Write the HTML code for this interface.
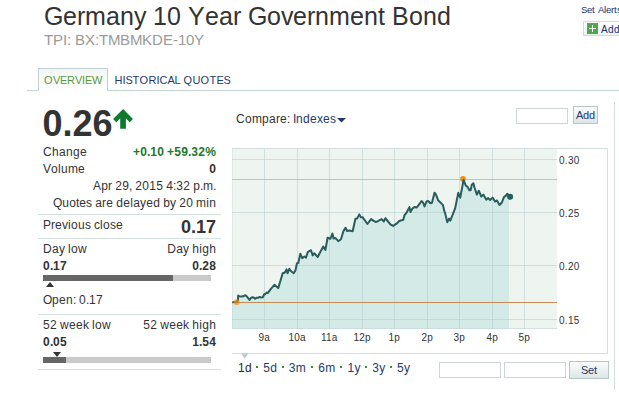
<!DOCTYPE html>
<html><head><meta charset="utf-8">
<style>
html,body{margin:0;padding:0;background:#fff;width:619px;height:407px;overflow:hidden;position:relative;font-family:"Liberation Sans",sans-serif;color:#333;}
.a{position:absolute;white-space:nowrap;line-height:1;letter-spacing:0;font-kerning:none;}
.a span{display:inline-block;}
.r{text-align:right;}
.hl{position:absolute;height:1px;background:#d5e0e0;}
</style></head><body>
<!-- header -->
<div class="a" style="left:44px;top:3.9px;font-size:25px;color:#333;"><span style="width:19px">G</span><span style="width:14px">e</span><span style="width:8px">r</span><span style="width:21px">m</span><span style="width:14px">a</span><span style="width:14px">n</span><span style="width:12px">y</span><span style="width:7px">&nbsp;</span><span style="width:14px">1</span><span style="width:14px">0</span><span style="width:7px">&nbsp;</span><span style="width:17px">Y</span><span style="width:14px">e</span><span style="width:14px">a</span><span style="width:8px">r</span><span style="width:7px">&nbsp;</span><span style="width:19px">G</span><span style="width:14px">o</span><span style="width:12px">v</span><span style="width:14px">e</span><span style="width:8px">r</span><span style="width:14px">n</span><span style="width:21px">m</span><span style="width:14px">e</span><span style="width:14px">n</span><span style="width:7px">t</span><span style="width:7px">&nbsp;</span><span style="width:17px">B</span><span style="width:14px">o</span><span style="width:14px">n</span><span style="width:14px">d</span></div>
<div class="a" style="left:44px;top:31.6px;font-size:15px;color:#9a9a9a;"><span style="width:9px">T</span><span style="width:10px">P</span><span style="width:4px">I</span><span style="width:4px">:</span><span style="width:4px">&nbsp;</span><span style="width:10px">B</span><span style="width:10px">X</span><span style="width:4px">:</span><span style="width:9px">T</span><span style="width:12px">M</span><span style="width:10px">B</span><span style="width:12px">M</span><span style="width:10px">K</span><span style="width:11px">D</span><span style="width:10px">E</span><span style="width:5px">-</span><span style="width:8px">1</span><span style="width:8px">0</span><span style="width:10px">Y</span></div>
<div class="a" style="left:581px;top:4.6px;font-size:9.5px;color:#16306a;"><span style="width:6px">S</span><span style="width:5px">e</span><span style="width:3px">t</span><span style="width:3px">&nbsp;</span><span style="width:6px">A</span><span style="width:2px">l</span><span style="width:5px">e</span><span style="width:3px">r</span><span style="width:3px">t</span><span style="width:5px">s</span></div>
<div style="position:absolute;left:583px;top:21px;width:40px;height:15px;border:1px solid #d3dada;border-right:none;background:linear-gradient(#fff,#eef2f2);box-sizing:border-box;"></div>
<div style="position:absolute;left:587px;top:23px;width:11px;height:11px;background:#50a550;"></div>
<div style="position:absolute;left:591.9px;top:24.8px;width:1.4px;height:7.2px;background:#fff;"></div>
<div style="position:absolute;left:588.8px;top:27.8px;width:7.3px;height:1.4px;background:#fff;"></div>
<div class="a" style="left:601px;top:24.6px;font-size:10px;color:#16306a;"><span style="width:7px">A</span><span style="width:6px">d</span><span style="width:6px">d</span></div>

<!-- tabs -->
<div class="hl" style="left:27px;top:90px;width:592px;background:#c5d4d4;"></div>
<div style="position:absolute;left:38px;top:68px;width:70px;height:23px;box-sizing:border-box;border:1px solid #c0d0d0;border-bottom:none;background:linear-gradient(#f4f6f6,#fff);"></div>
<div class="a" style="left:44px;top:74.5px;font-size:11px;color:#5a9a3a;"><span style="width:9px">O</span><span style="width:7px">V</span><span style="width:7px">E</span><span style="width:8px">R</span><span style="width:7px">V</span><span style="width:3px">I</span><span style="width:7px">E</span><span style="width:10px">W</span></div>
<div class="a" style="left:114.5px;top:74.9px;font-size:11px;color:#1f3a6b;"><span style="width:8px">H</span><span style="width:3px">I</span><span style="width:7px">S</span><span style="width:7px">T</span><span style="width:9px">O</span><span style="width:8px">R</span><span style="width:3px">I</span><span style="width:8px">C</span><span style="width:7px">A</span><span style="width:6px">L</span><span style="width:3px">&nbsp;</span><span style="width:9px">Q</span><span style="width:8px">U</span><span style="width:9px">O</span><span style="width:7px">T</span><span style="width:7px">E</span><span style="width:7px">S</span></div>

<!-- left panel -->
<div class="a" style="left:42.5px;top:106px;font-size:36px;font-weight:bold;color:#333;"><span style="width:20px">0</span><span style="width:10px">.</span><span style="width:20px">2</span><span style="width:20px">6</span></div>
<svg style="position:absolute;left:108px;top:104px" width="30" height="30" viewBox="108 104 30 30"><path d="M123.1,109 L132.9,119.1 L129.7,122.2 L125.9,118.2 L125.9,128.7 L120.2,128.7 L120.2,118.2 L116.3,122.2 L113.1,119.1 Z" fill="#0b7a2a"/></svg>

<div class="a" style="left:43px;top:145.8px;font-size:12px;"><span style="width:9px">C</span><span style="width:7px">h</span><span style="width:7px">a</span><span style="width:7px">n</span><span style="width:7px">g</span><span style="width:7px">e</span></div>
<div class="a r" style="right:403px;top:145.8px;font-size:12px;font-weight:bold;color:#1a7a2a;"><span style="width:7px">+</span><span style="width:7px">0</span><span style="width:3px">.</span><span style="width:7px">1</span><span style="width:7px">0</span><span style="width:3px">&nbsp;</span><span style="width:7px">+</span><span style="width:7px">5</span><span style="width:7px">9</span><span style="width:3px">.</span><span style="width:7px">3</span><span style="width:7px">2</span><span style="width:11px">%</span></div>
<div class="a" style="left:43px;top:162.6px;font-size:12px;"><span style="width:8px">V</span><span style="width:7px">o</span><span style="width:3px">l</span><span style="width:7px">u</span><span style="width:10px">m</span><span style="width:7px">e</span></div>
<div class="a r" style="right:403px;top:162.6px;font-size:12px;font-weight:bold;"><span style="width:7px">0</span></div>
<div class="a r" style="right:403px;top:179.8px;font-size:12px;"><span style="width:8px">A</span><span style="width:7px">p</span><span style="width:4px">r</span><span style="width:3px">&nbsp;</span><span style="width:7px">2</span><span style="width:7px">9</span><span style="width:3px">,</span><span style="width:3px">&nbsp;</span><span style="width:7px">2</span><span style="width:7px">0</span><span style="width:7px">1</span><span style="width:7px">5</span><span style="width:3px">&nbsp;</span><span style="width:7px">4</span><span style="width:3px">:</span><span style="width:7px">3</span><span style="width:7px">2</span><span style="width:3px">&nbsp;</span><span style="width:7px">p</span><span style="width:3px">.</span><span style="width:10px">m</span><span style="width:3px">.</span></div>
<div class="a r" style="right:403px;top:196.8px;font-size:12px;"><span style="width:9px">Q</span><span style="width:7px">u</span><span style="width:7px">o</span><span style="width:3px">t</span><span style="width:7px">e</span><span style="width:6px">s</span><span style="width:3px">&nbsp;</span><span style="width:7px">a</span><span style="width:4px">r</span><span style="width:7px">e</span><span style="width:3px">&nbsp;</span><span style="width:7px">d</span><span style="width:7px">e</span><span style="width:3px">l</span><span style="width:7px">a</span><span style="width:6px">y</span><span style="width:7px">e</span><span style="width:7px">d</span><span style="width:3px">&nbsp;</span><span style="width:7px">b</span><span style="width:6px">y</span><span style="width:3px">&nbsp;</span><span style="width:7px">2</span><span style="width:7px">0</span><span style="width:3px">&nbsp;</span><span style="width:10px">m</span><span style="width:3px">i</span><span style="width:7px">n</span></div>
<div class="hl" style="left:38px;top:214px;width:183px;"></div>
<div class="a" style="left:43px;top:218.7px;font-size:12px;"><span style="width:8px">P</span><span style="width:4px">r</span><span style="width:7px">e</span><span style="width:6px">v</span><span style="width:3px">i</span><span style="width:7px">o</span><span style="width:7px">u</span><span style="width:6px">s</span><span style="width:3px">&nbsp;</span><span style="width:6px">c</span><span style="width:3px">l</span><span style="width:7px">o</span><span style="width:6px">s</span><span style="width:7px">e</span></div>
<div class="a r" style="right:403px;top:217.6px;font-size:18px;font-weight:bold;"><span style="width:10px">0</span><span style="width:5px">.</span><span style="width:10px">1</span><span style="width:10px">7</span></div>
<div class="hl" style="left:38px;top:238px;width:183px;"></div>
<div class="a" style="left:43px;top:242.8px;font-size:12px;"><span style="width:9px">D</span><span style="width:7px">a</span><span style="width:6px">y</span><span style="width:3px">&nbsp;</span><span style="width:3px">l</span><span style="width:7px">o</span><span style="width:9px">w</span></div>
<div class="a r" style="right:403px;top:242.8px;font-size:12px;"><span style="width:9px">D</span><span style="width:7px">a</span><span style="width:6px">y</span><span style="width:3px">&nbsp;</span><span style="width:7px">h</span><span style="width:3px">i</span><span style="width:7px">g</span><span style="width:7px">h</span></div>
<div class="a" style="left:43px;top:259.5px;font-size:12px;font-weight:bold;"><span style="width:7px">0</span><span style="width:3px">.</span><span style="width:7px">1</span><span style="width:7px">7</span></div>
<div class="a r" style="right:403px;top:259.5px;font-size:12px;font-weight:bold;"><span style="width:7px">0</span><span style="width:3px">.</span><span style="width:7px">2</span><span style="width:7px">8</span></div>
<div style="position:absolute;left:43px;top:275px;width:130px;height:6px;background:#666;"></div>
<div style="position:absolute;left:173px;top:275px;width:38px;height:6px;background:#cacaca;"></div>
<svg style="position:absolute;left:46px;top:282px" width="8" height="5"><path d="M4 0 L8 5 L0 5 Z" fill="#333"/></svg>
<div class="a" style="left:43px;top:293.7px;font-size:12px;"><span style="width:9px">O</span><span style="width:7px">p</span><span style="width:7px">e</span><span style="width:7px">n</span><span style="width:3px">:</span><span style="width:3px">&nbsp;</span><span style="width:7px">0</span><span style="width:3px">.</span><span style="width:7px">1</span><span style="width:7px">7</span></div>
<div class="hl" style="left:38px;top:314px;width:183px;"></div>
<div class="a" style="left:43px;top:318.7px;font-size:12px;"><span style="width:7px">5</span><span style="width:7px">2</span><span style="width:3px">&nbsp;</span><span style="width:9px">w</span><span style="width:7px">e</span><span style="width:7px">e</span><span style="width:6px">k</span><span style="width:3px">&nbsp;</span><span style="width:3px">l</span><span style="width:7px">o</span><span style="width:9px">w</span></div>
<div class="a r" style="right:403px;top:318.7px;font-size:12px;"><span style="width:7px">5</span><span style="width:7px">2</span><span style="width:3px">&nbsp;</span><span style="width:9px">w</span><span style="width:7px">e</span><span style="width:7px">e</span><span style="width:6px">k</span><span style="width:3px">&nbsp;</span><span style="width:7px">h</span><span style="width:3px">i</span><span style="width:7px">g</span><span style="width:7px">h</span></div>
<div class="a" style="left:43px;top:335.5px;font-size:12px;font-weight:bold;"><span style="width:7px">0</span><span style="width:3px">.</span><span style="width:7px">0</span><span style="width:7px">5</span></div>
<div class="a r" style="right:403px;top:335.5px;font-size:12px;font-weight:bold;"><span style="width:7px">1</span><span style="width:3px">.</span><span style="width:7px">5</span><span style="width:7px">4</span></div>
<svg style="position:absolute;left:53px;top:352px" width="8" height="5"><path d="M0 0 L8 0 L4 5 Z" fill="#333"/></svg>
<div style="position:absolute;left:43px;top:357px;width:23px;height:6px;background:#666;"></div>
<div style="position:absolute;left:66px;top:357px;width:145px;height:6px;background:#cacaca;"></div>
<div class="hl" style="left:38px;top:369px;width:183px;"></div>

<!-- chart header -->
<div class="a g" style="left:236px;top:112.5px;font-size:12px;color:#333;"><span style="width:9px">C</span><span style="width:7px">o</span><span style="width:10px">m</span><span style="width:7px">p</span><span style="width:7px">a</span><span style="width:4px">r</span><span style="width:7px">e</span><span style="width:3px">:</span><span style="width:3px">&nbsp;</span></div>
<div class="a g" style="left:293px;top:112.5px;font-size:12px;color:#1f3a6b;"><span style="width:3px">I</span><span style="width:7px">n</span><span style="width:7px">d</span><span style="width:7px">e</span><span style="width:6px">x</span><span style="width:7px">e</span><span style="width:6px">s</span></div>
<svg style="position:absolute;left:337px;top:117.5px" width="10" height="6"><path d="M0 0 L9 0 L4.5 4.5 Z" fill="#1f3a6b"/></svg>
<div style="position:absolute;left:516px;top:108px;width:52px;height:16px;box-sizing:border-box;border:1px solid #cdd6d6;background:#fff;"></div>
<div style="position:absolute;left:573px;top:106px;width:25px;height:18px;box-sizing:border-box;border:1px solid #b9c6c6;background:linear-gradient(#fafcfc,#dde6e6);"></div>
<div class="a" style="left:576px;top:110px;font-size:11px;color:#1f3a6b;"><span style="width:7px">A</span><span style="width:6px">d</span><span style="width:6px">d</span></div>
<div style="position:absolute;left:614px;top:102px;width:1px;height:288px;background:#d5dede;"></div>

<!-- chart -->
<svg style="position:absolute;left:0;top:0" width="619" height="407">
<rect x="232" y="148" width="325" height="181" fill="#eef5f1"/>
<path d="M232,328.5 L232,302.2 L232.3,302.2 L236.8,302.0 L237.9,300.3 L238.2,295.5 L239.3,296.3 L241.3,296.6 L243.3,296.3 L245.3,295.2 L247.0,296.6 L249.5,300.0 L250.6,298.3 L252.0,297.2 L253.7,297.4 L255.2,298.8 L256.6,297.7 L258.3,297.7 L259.7,296.9 L260.8,297.4 L262.8,297.2 L264.2,294.3 L265.0,294.2 L266.6,292.6 L267.7,293.1 L270.5,289.3 L274.4,284.8 L278.2,288.1 L280.4,281.0 L282.7,273.2 L284.9,272.5 L286.5,269.4 L287.6,273.2 L289.3,268.8 L290.9,271.0 L293.7,273.2 L295.4,270.5 L297.0,263.3 L298.3,263.1 L300.3,253.7 L302.2,258.1 L304.4,256.5 L306.0,257.6 L307.7,252.1 L311.0,250.2 L312.7,255.4 L314.3,253.2 L317.7,257.0 L323.2,246.5 L325.4,249.9 L327.6,237.7 L330.4,238.8 L332.4,233.5 L333.6,238.5 L335.5,238.1 L338.3,241.2 L341.0,239.3 L343.3,231.5 L345.5,227.7 L347.1,231.0 L349.3,230.6 L352.7,231.3 L355.4,218.8 L357.1,218.5 L359.3,214.4 L360.9,217.2 L362.6,217.2 L367.4,224.0 L371.1,219.1 L373.3,220.6 L376.0,222.1 L378.8,220.6 L381.6,219.1 L383.8,221.5 L385.4,218.2 L387.7,221.0 L390.4,224.3 L393.2,225.9 L396.5,223.7 L399.3,221.0 L403.3,219.8 L404.4,215.4 L406.6,212.6 L409.4,207.1 L410.5,212.0 L412.2,208.7 L414.4,207.1 L416.6,207.6 L418.8,204.9 L421.5,201.0 L423.2,202.7 L424.5,206.5 L426.5,201.5 L428.2,201.0 L430.4,203.2 L432.0,202.7 L434.5,192.7 L435.9,194.4 L438.1,200.2 L440.5,202.6 L443.0,205.1 L444.2,210.6 L445.4,214.3 L447.3,222.2 L449.1,218.6 L450.3,220.6 L452.8,214.3 L455.2,208.1 L458.3,192.8 L460.2,197.7 L462.0,188.5 L463.5,179.9 L465.7,185.4 L467.5,186.7 L469.4,190.3 L470.6,190.3 L471.8,184.8 L473.4,183.3 L474.4,187.3 L476.9,194.6 L478.8,190.7 L481.3,196.6 L483.3,194.6 L486.2,199.6 L488.2,198.1 L490.1,200.0 L492.6,197.6 L495.0,201.5 L497.0,200.5 L499.5,205.0 L501.9,202.5 L503.9,197.1 L505.9,195.6 L507.3,193.7 L508.8,195.6 L509,195.6 L509,328.5 Z" fill="#d4eae7"/>
<rect x="264.0" y="148" width="1" height="181" fill="#b4cbcd" opacity="0.55"/>
<rect x="297.0" y="148" width="1" height="181" fill="#b4cbcd" opacity="0.55"/>
<rect x="329.0" y="148" width="1" height="181" fill="#b4cbcd" opacity="0.55"/>
<rect x="362.0" y="148" width="1" height="181" fill="#b4cbcd" opacity="0.55"/>
<rect x="394.0" y="148" width="1" height="181" fill="#b4cbcd" opacity="0.55"/>
<rect x="427.0" y="148" width="1" height="181" fill="#b4cbcd" opacity="0.55"/>
<rect x="459.0" y="148" width="1" height="181" fill="#b4cbcd" opacity="0.55"/>
<rect x="492.0" y="148" width="1" height="181" fill="#b4cbcd" opacity="0.55"/>
<rect x="524.0" y="148" width="1" height="181" fill="#b4cbcd" opacity="0.55"/>
<rect x="232" y="159" width="325" height="1" fill="#b4cbcd" opacity="0.55"/>
<rect x="232" y="212" width="325" height="1" fill="#b4cbcd" opacity="0.55"/>
<rect x="232" y="265" width="325" height="1" fill="#b4cbcd" opacity="0.55"/>
<rect x="232" y="319" width="325" height="1" fill="#b4cbcd" opacity="0.55"/>
<path d="M232,148.5 L607.5,148.5 L607.5,353.5 L232,353.5" fill="none" stroke="#d3dfde" stroke-width="1"/>
<rect x="232" y="149" width="1" height="180" fill="#9fbcbc" opacity="0.18"/>
<rect x="232" y="328" width="325" height="1" fill="#b5cccd" opacity="0.5"/>
<rect x="232" y="179" width="325" height="1" fill="#f2b878"/>
<rect x="232" y="302" width="325" height="1" fill="#c68a52"/>
<circle cx="463" cy="178.9" r="2.8" fill="#f0900a"/>
<polyline points="232.3,302.2 236.8,302.0 237.9,300.3 238.2,295.5 239.3,296.3 241.3,296.6 243.3,296.3 245.3,295.2 247.0,296.6 249.5,300.0 250.6,298.3 252.0,297.2 253.7,297.4 255.2,298.8 256.6,297.7 258.3,297.7 259.7,296.9 260.8,297.4 262.8,297.2 264.2,294.3 265.0,294.2 266.6,292.6 267.7,293.1 270.5,289.3 274.4,284.8 278.2,288.1 280.4,281.0 282.7,273.2 284.9,272.5 286.5,269.4 287.6,273.2 289.3,268.8 290.9,271.0 293.7,273.2 295.4,270.5 297.0,263.3 298.3,263.1 300.3,253.7 302.2,258.1 304.4,256.5 306.0,257.6 307.7,252.1 311.0,250.2 312.7,255.4 314.3,253.2 317.7,257.0 323.2,246.5 325.4,249.9 327.6,237.7 330.4,238.8 332.4,233.5 333.6,238.5 335.5,238.1 338.3,241.2 341.0,239.3 343.3,231.5 345.5,227.7 347.1,231.0 349.3,230.6 352.7,231.3 355.4,218.8 357.1,218.5 359.3,214.4 360.9,217.2 362.6,217.2 367.4,224.0 371.1,219.1 373.3,220.6 376.0,222.1 378.8,220.6 381.6,219.1 383.8,221.5 385.4,218.2 387.7,221.0 390.4,224.3 393.2,225.9 396.5,223.7 399.3,221.0 403.3,219.8 404.4,215.4 406.6,212.6 409.4,207.1 410.5,212.0 412.2,208.7 414.4,207.1 416.6,207.6 418.8,204.9 421.5,201.0 423.2,202.7 424.5,206.5 426.5,201.5 428.2,201.0 430.4,203.2 432.0,202.7 434.5,192.7 435.9,194.4 438.1,200.2 440.5,202.6 443.0,205.1 444.2,210.6 445.4,214.3 447.3,222.2 449.1,218.6 450.3,220.6 452.8,214.3 455.2,208.1 458.3,192.8 460.2,197.7 462.0,188.5 463.5,179.9 465.7,185.4 467.5,186.7 469.4,190.3 470.6,190.3 471.8,184.8 473.4,183.3 474.4,187.3 476.9,194.6 478.8,190.7 481.3,196.6 483.3,194.6 486.2,199.6 488.2,198.1 490.1,200.0 492.6,197.6 495.0,201.5 497.0,200.5 499.5,205.0 501.9,202.5 503.9,197.1 505.9,195.6 507.3,193.7 508.8,195.6 510.1,196.8" fill="none" stroke="#285d5b" stroke-width="2" stroke-linejoin="round"/>
<circle cx="236.8" cy="302.2" r="3" fill="#f58a00" opacity="0.65"/>
<circle cx="510.1" cy="196.8" r="3" fill="#285d5b"/>
<text x="559" y="164.1" font-size="10" letter-spacing="0.3" fill="#333" font-family="Liberation Sans">0.30</text>
<text x="559" y="217.1" font-size="10" letter-spacing="0.3" fill="#333" font-family="Liberation Sans">0.25</text>
<text x="559" y="270.1" font-size="10" letter-spacing="0.3" fill="#333" font-family="Liberation Sans">0.20</text>
<text x="559" y="324.1" font-size="10" letter-spacing="0.3" fill="#333" font-family="Liberation Sans">0.15</text>
<text x="264.2" y="341" font-size="10" letter-spacing="0.2" fill="#333" text-anchor="middle" font-family="Liberation Sans">9a</text>
<text x="297.2" y="341" font-size="10" letter-spacing="0.2" fill="#333" text-anchor="middle" font-family="Liberation Sans">10a</text>
<text x="329.2" y="341" font-size="10" letter-spacing="0.2" fill="#333" text-anchor="middle" font-family="Liberation Sans">11a</text>
<text x="362.2" y="341" font-size="10" letter-spacing="0.2" fill="#333" text-anchor="middle" font-family="Liberation Sans">12p</text>
<text x="394.2" y="341" font-size="10" letter-spacing="0.2" fill="#333" text-anchor="middle" font-family="Liberation Sans">1p</text>
<text x="427.2" y="341" font-size="10" letter-spacing="0.2" fill="#333" text-anchor="middle" font-family="Liberation Sans">2p</text>
<text x="459.2" y="341" font-size="10" letter-spacing="0.2" fill="#333" text-anchor="middle" font-family="Liberation Sans">3p</text>
<text x="492.2" y="341" font-size="10" letter-spacing="0.2" fill="#333" text-anchor="middle" font-family="Liberation Sans">4p</text>
<text x="524.2" y="341" font-size="10" letter-spacing="0.2" fill="#333" text-anchor="middle" font-family="Liberation Sans">5p</text>
<path d="M241,353.5 L248.4,353.5 L244.7,358.8 Z" fill="#b9cdd0"/>
</svg>

<!-- bottom controls -->
<div class="a" style="left:238px;top:361.5px;font-size:12px;color:#2a2a2a;"><span style="width:7px">1</span><span style="width:7px">d</span></div>
<div class="a" style="left:263.3px;top:361.5px;font-size:12px;color:#1f3a6b;"><span style="width:7px">5</span><span style="width:7px">d</span></div>
<div class="a" style="left:288.8px;top:361.5px;font-size:12px;color:#1f3a6b;"><span style="width:7px">3</span><span style="width:10px">m</span></div>
<div class="a" style="left:318.3px;top:361.5px;font-size:12px;color:#1f3a6b;"><span style="width:7px">6</span><span style="width:10px">m</span></div>
<div class="a" style="left:347.6px;top:361.5px;font-size:12px;color:#1f3a6b;"><span style="width:7px">1</span><span style="width:6px">y</span></div>
<div class="a" style="left:372.3px;top:361.5px;font-size:12px;color:#1f3a6b;"><span style="width:7px">3</span><span style="width:6px">y</span></div>
<div class="a" style="left:397px;top:361.5px;font-size:12px;color:#1f3a6b;"><span style="width:7px">5</span><span style="width:6px">y</span></div>
<div style="position:absolute;left:256px;top:366px;width:2px;height:2px;background:#2a9a2a;"></div>
<div style="position:absolute;left:282px;top:366px;width:2px;height:2px;background:#2a9a2a;"></div>
<div style="position:absolute;left:311px;top:366px;width:2px;height:2px;background:#2a9a2a;"></div>
<div style="position:absolute;left:340px;top:366px;width:2px;height:2px;background:#2a9a2a;"></div>
<div style="position:absolute;left:364.5px;top:366px;width:2px;height:2px;background:#2a9a2a;"></div>
<div style="position:absolute;left:390px;top:366px;width:2px;height:2px;background:#2a9a2a;"></div>
<div style="position:absolute;left:439px;top:362px;width:62px;height:16px;box-sizing:border-box;border:1px solid #cdd6d6;background:#fff;"></div>
<div style="position:absolute;left:504px;top:362px;width:62px;height:16px;box-sizing:border-box;border:1px solid #cdd6d6;background:#fff;"></div>
<div style="position:absolute;left:569px;top:361px;width:40px;height:18px;box-sizing:border-box;border:1px solid #b9c6c6;background:linear-gradient(#fafcfc,#dde6e6);"></div>
<div class="a" style="left:581px;top:365px;font-size:11px;color:#1f3a6b;"><span style="width:7px">S</span><span style="width:6px">e</span><span style="width:3px">t</span></div>
</body></html>
